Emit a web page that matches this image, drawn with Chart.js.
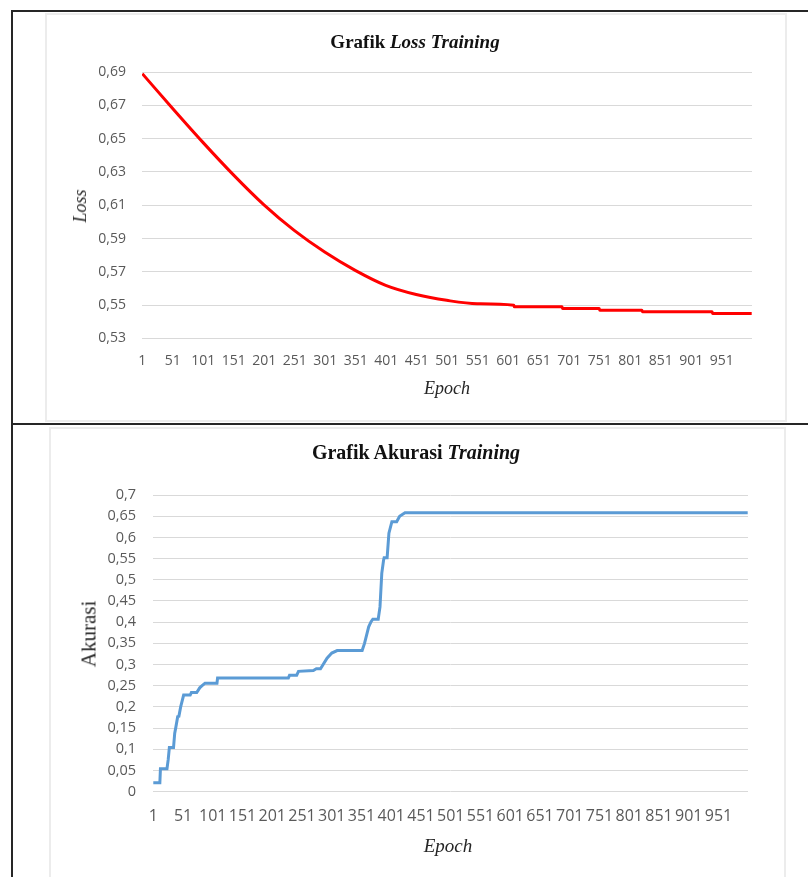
<!DOCTYPE html>
<html>
<head>
<meta charset="utf-8">
<title>Grafik Loss dan Akurasi Training</title>
<script src="https://cdn.jsdelivr.net/npm/chart.js@4/dist/chart.umd.min.js"></script>
<style>
  html, body { margin: 0; padding: 0; background: #fff; }
  body { width: 808px; height: 877px; position: relative; overflow: hidden; font-family: "Liberation Serif", "Times New Roman", serif; }
  .rule { position: absolute; background: #262626; }
  .panel { position: absolute; border: 2px solid #ececec; box-sizing: border-box; }
  .ttl { position: absolute; font-weight: bold; color: #111; white-space: nowrap; transform: translateX(-50%); line-height: 22px; }
  .ax { position: absolute; color: #262626; white-space: nowrap; line-height: 1; transform: translate(-50%, -50%); }
  .ax.rot { transform: translate(-50%, -50%) rotate(-90deg); }
  canvas { position: absolute; }
</style>
</head>
<body>
  <!-- table frame -->
  <div class="rule" style="left:11px; top:10px; width:2px; height:867px;"></div>
  <div class="rule" style="left:11px; top:10px; width:797px; height:2px;"></div>
  <div class="rule" style="left:11px; top:423px; width:797px; height:2px;"></div>

  <!-- loss panel -->
  <div class="panel" style="left:45px; top:13px; width:742px; height:409px;"></div>
  <canvas id="lossChart" width="740" height="407" style="left:46px; top:14px;"></canvas>
  <div class="ttl" style="left:415px; top:31px; font-size:19px;">Grafik <i>Loss Training</i></div>
  <div class="ax rot" style="left:80px; top:206px; font-size:18px; font-style:italic;">Loss</div>
  <div class="ax" style="left:447px; top:388px; font-size:18px; font-style:italic;">Epoch</div>

  <!-- accuracy panel -->
  <div class="panel" style="left:49px; top:427px; width:737px; height:460px;"></div>
  <canvas id="accChart" width="735" height="449" style="left:50px; top:428px;"></canvas>
  <div class="ttl" style="left:416px; top:441px; font-size:20px;">Grafik Akurasi <i>Training</i></div>
  <div class="ax rot" style="left:89px; top:634px; font-size:21px;">Akurasi</div>
  <div class="ax" style="left:448px; top:845px; font-size:19px; font-style:italic;">Epoch</div>

<script>
// Epoch labels shown under both charts
const epochTicks = [1, 51, 101, 151, 201, 251, 301, 351, 401, 451, 501, 551, 601, 651, 701, 751, 801, 851, 901, 951];

// Training loss per epoch (sampled along the curve)
const lossEpochs = [1, 50, 100, 150, 200, 250, 300, 350, 400, 450, 500, 550,
                    610, 611, 689, 690, 750, 751, 820, 821, 935, 936, 1000];
const lossValues = [0.689, 0.6684, 0.6479, 0.6284, 0.6104, 0.5949, 0.5819, 0.5709, 0.5619, 0.5564, 0.5529, 0.5509,
                    0.550, 0.549, 0.549, 0.548, 0.548, 0.547, 0.547, 0.546, 0.546, 0.545, 0.545];
const lossTicks = [0.53, 0.55, 0.57, 0.59, 0.61, 0.63, 0.65, 0.67, 0.69];

// Training accuracy per epoch (corners of the stepwise curve)
const accEpochs = [1, 12, 13, 24, 26, 28, 35, 37, 39, 42, 44, 47, 52, 63, 65, 74, 79, 83, 88, 108,
                   109, 228, 230, 242, 245, 270, 275, 282, 293, 301, 310, 352, 356, 363, 367, 370, 379, 382, 385, 388,
                   389, 394, 397, 402, 410, 415, 424, 1000];
const accValues = [0.021, 0.021, 0.054, 0.054, 0.075, 0.104, 0.104, 0.138, 0.153, 0.177, 0.178, 0.200, 0.228, 0.228, 0.234, 0.234, 0.245, 0.250, 0.256, 0.256,
                   0.268, 0.268, 0.275, 0.275, 0.284, 0.286, 0.290, 0.290, 0.315, 0.327, 0.333, 0.333, 0.350, 0.389, 0.401, 0.407, 0.407, 0.436, 0.515, 0.546,
                   0.552, 0.552, 0.610, 0.637, 0.637, 0.650, 0.658, 0.658];
const accTicks = [0, 0.05, 0.1, 0.15, 0.2, 0.25, 0.3, 0.35, 0.4, 0.45, 0.5, 0.55, 0.6, 0.65, 0.7];

const tickColor = '#595959';
const gridColor = '#d9d9d9';

function points(xs, ys) {
  return xs.map((x, i) => ({ x: x, y: ys[i] }));
}

function buildChart(id, opt) {
  return new Chart(document.getElementById(id), {
    type: 'line',
    data: {
      datasets: [{
        data: points(opt.xs, opt.ys),
        borderColor: opt.color,
        borderWidth: 3,
        pointRadius: 0,
        fill: false,
        tension: 0,
        cubicInterpolationMode: opt.smooth ? 'monotone' : 'default'
      }]
    },
    options: {
      responsive: false,
      animation: false,
      devicePixelRatio: 1,
      layout: { padding: opt.padding },
      plugins: { legend: { display: false }, tooltip: { enabled: false }, title: { display: false } },
      scales: {
        x: {
          type: 'linear',
          min: 0.5,
          max: 1000.5,
          afterBuildTicks: s => { s.ticks = epochTicks.map(v => ({ value: v })); },
          afterFit: s => { s.height = opt.xHeight; },
          grid: { display: false, drawTicks: false },
          border: { display: false },
          ticks: {
            autoSkip: false, maxRotation: 0, minRotation: 0,
            padding: opt.xPad, color: tickColor,
            font: { family: 'Open Sans', size: opt.xFont },
            callback: v => String(v)
          }
        },
        y: {
          min: opt.yTicks[0],
          max: opt.yTicks[opt.yTicks.length - 1],
          afterBuildTicks: s => { s.ticks = opt.yTicks.map(v => ({ value: v })); },
          afterFit: s => { s.width = opt.yWidth; },
          grid: { color: gridColor, lineWidth: 1, drawTicks: false },
          border: { display: false },
          ticks: {
            padding: opt.yPad, color: tickColor,
            font: { family: 'Open Sans', size: opt.yFont },
            callback: opt.yFormat
          }
        }
      }
    }
  });
}

buildChart('lossChart', {
  xs: lossEpochs, ys: lossValues, color: '#ff0000', smooth: true,
  yTicks: lossTicks,
  yFormat: v => v.toFixed(2).replace('.', ','),
  padding: { top: 58, right: 34, left: 0, bottom: 0 },
  yWidth: 96, xHeight: 82.5,
  xPad: 14.5, yPad: 16, xFont: 14, yFont: 14
});

buildChart('accChart', {
  xs: accEpochs, ys: accValues, color: '#5b9bd5', smooth: false,
  yTicks: accTicks,
  yFormat: v => String(v).replace('.', ','),
  padding: { top: 67, right: 37, left: 0, bottom: 0 },
  yWidth: 103, xHeight: 85.3,
  xPad: 15, yPad: 17, xFont: 16, yFont: 14.5
});
</script>
</body>
</html>
